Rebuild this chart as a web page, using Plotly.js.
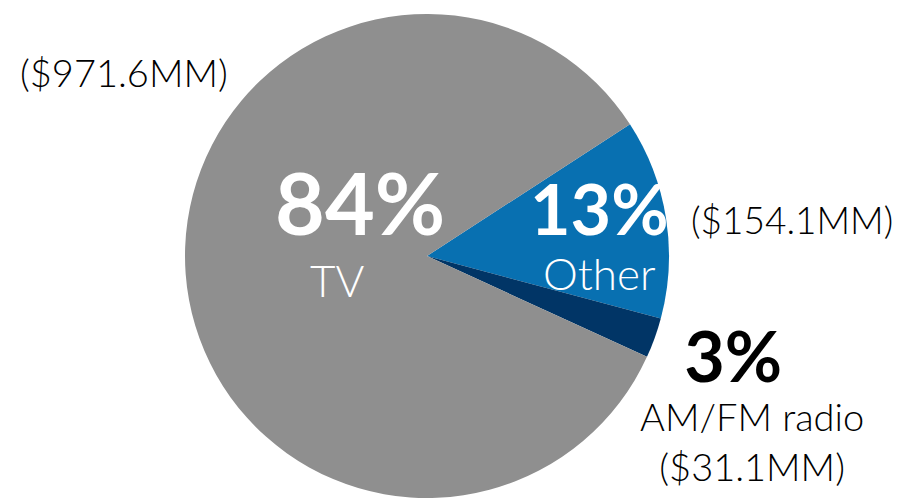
<!DOCTYPE html>
<html>
<head>
<meta charset="utf-8">
<script src="https://cdn.plot.ly/plotly-3.0.1.min.js"></script>
<style>
  html, body { margin: 0; padding: 0; background: #fff; }
  #chart { width: 908px; height: 503px; }
</style>
</head>
<body>
<div id="chart"></div>
<script>
// spend by channel, $MM
const labels = ['Other', 'AM/FM radio', 'TV'];
const values = [154.1, 31.1, 971.6];
const colors = ['#0870b1', '#013566', '#8f8f8f'];

const total = values.reduce((a, b) => a + b, 0);
const pct = values.map(v => Math.round(v / total * 100) + '%');
const money = values.map(v => '($' + v.toFixed(1) + 'MM)');

const W = 908, H = 503;
const px = x => x / W;
const py = y => 1 - y / H;

const font = 'Lato, "Open Sans", sans-serif';
const sz = (n, t) => '<span style="font-size:' + n + 'px">' + t + '</span>';

function note(x, y, text, size, color, weight) {
  return {
    x: px(x), y: py(y), xref: 'paper', yref: 'paper',
    xanchor: 'center', yanchor: 'middle', showarrow: false,
    text: text,
    font: { family: font, size: size, color: color, weight: weight }
  };
}

const annotations = [
  // Other: percent over name, money to the right
  note(599, 232, sz(70, '<b>' + pct[0] + '</b>') + '<br>' + sz(44, labels[0]), 42, '#ffffff', 300),
  note(792, 219, money[0], 37, '#000000', 300),
  // AM/FM radio: stacked outside the pie
  note(752, 401, sz(70, '<b>' + pct[1] + '</b>&nbsp;&nbsp;') + '<br>' + labels[1] + '<br>' + money[1], 38, '#000000', 300),
  // TV
  note(360, 201, '<b>' + pct[2] + '</b>', 86, '#ffffff', 700),
  note(337, 280, labels[2], 44, '#ffffff', 300),
  note(124, 72, money[2], 38, '#000000', 300)
];

const data = [{
  type: 'pie',
  labels: labels,
  values: values,
  sort: false,
  direction: 'clockwise',
  rotation: 57,
  marker: { colors: colors, line: { width: 0 } },
  textinfo: 'none',
  hoverinfo: 'none',
  domain: { x: [px(427 - 242), px(427 + 242)], y: [py(256 + 242), py(256 - 242)] }
}];

const layout = {
  width: W,
  height: H,
  margin: { l: 0, r: 0, t: 0, b: 0 },
  showlegend: false,
  paper_bgcolor: '#ffffff',
  annotations: annotations
};

Plotly.newPlot('chart', data, layout, { displayModeBar: false, staticPlot: true });
</script>
</body>
</html>
